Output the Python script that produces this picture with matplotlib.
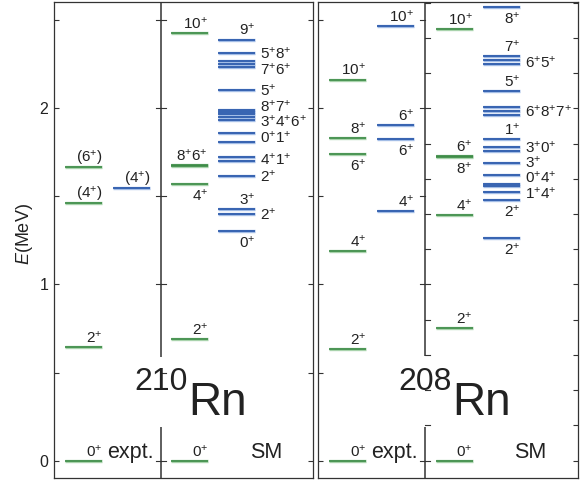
import numpy as np
import matplotlib.pyplot as plt

plt.rcParams['font.family'] = ['Liberation Sans', 'DejaVu Sans']
plt.rcParams['mathtext.fontset'] = 'custom'
plt.rcParams['mathtext.rm'] = 'Liberation Sans'
plt.rcParams['mathtext.it'] = 'Liberation Sans:italic'
plt.rcParams['mathtext.default'] = 'regular'

# level energies (MeV), spins and label placement
# placement: a = above, b = below, r = right; same suffix -> one shared label
rn210_exp_E = [0.0, 0.643, 1.463, 1.664]
rn210_exp_J = ['0', '2', '(4)', '(6)']
rn210_exp_P = ['a', 'a', 'a', 'a']
rn210_expb_E = [1.545]
rn210_expb_J = ['(4)']
rn210_expb_P = ['a']
rn210_smg_E = [0.0, 0.689, 1.568, 1.670, 1.676, 2.426]
rn210_smg_J = ['0', '2', '4', '6', '8', '10']
rn210_smg_P = ['a', 'a', 'b', 'a1', 'a1', 'a']
rn210_smb_E = [1.305, 1.398, 1.426, 1.615, 1.700, 1.722, 1.809, 1.860, 1.932, 1.948,
               1.967, 1.980, 1.993, 2.103, 2.235, 2.250, 2.269, 2.314, 2.390]
rn210_smb_J = ['0', '2', '3', '2', '1', '4', '1', '0', '6', '4',
               '3', '7', '8', '5', '6', '7', '8', '5', '9']
rn210_smb_P = ['b', 'r', 'a', 'r', 'r1', 'r1', 'r2', 'r2', 'r3', 'r3',
               'r3', 'r4', 'r4', 'r', 'r5', 'r5', 'r6', 'r6', 'a']

rn208_exp_E = [0.0, 0.635, 1.189, 1.740, 1.829, 2.163]
rn208_exp_J = ['0', '2', '4', '6', '8', '10']
rn208_exp_P = ['a', 'a', 'a', 'b', 'a', 'a']
rn208_expb_E = [1.416, 1.825, 1.904, 2.466]
rn208_expb_J = ['4', '6', '6', '10']
rn208_expb_P = ['a', 'b', 'a', 'a']
rn208_smg_E = [0.0, 0.753, 1.394, 1.724, 1.730, 2.449]
rn208_smg_J = ['0', '2', '4', '8', '6', '10']
rn208_smg_P = ['a', 'a', 'a', 'b', 'a', 'a']
rn208_smb_E = [1.265, 1.479, 1.526, 1.558, 1.573, 1.621, 1.690, 1.758, 1.781, 1.825,
               1.961, 1.985, 2.005, 2.099, 2.249, 2.273, 2.299, 2.572]
rn208_smb_J = ['2', '2', '4', '1', '4', '0', '3', '0', '3', '1',
               '7', '8', '6', '5', '5', '6', '7', '8']
rn208_smb_P = ['b', 'b', 'r1', 'r1', 'r2', 'r2', 'r', 'r3', 'r3', 'a',
               'r4', 'r4', 'r4', 'a', 'r5', 'r5', 'a', 'b']

GREEN, GREEN_L = '#3b8a45', '#a9d3ac'
BLUE, BLUE_L = '#2454a8', '#a3bde6'
TXT = '#222222'
SPINE = '#333333'
colx = [11, 59, 117, 164]
colw = 37
divx = 106.5
ylim = (-0.098, 2.603)
FS = 11


def spin(j):
    if j.startswith('('):
        return '(' + j[1:-1] + '^{+})'
    return j + '^{+}'


def draw_column(ax, x0, E, J, P, col, light):
    x1 = x0 + colw
    ax.hlines(E, x0, x1, color=light, lw=2.4, zorder=2)
    ax.hlines(E, x0, x1, color=col, lw=1.2, zorder=3)
    groups = {}
    for i, (e, j, p) in enumerate(zip(E, J, P)):
        key = p if len(p) > 1 else (p, i)
        groups.setdefault(key, []).append((e, j))
    right = []
    for key, lv in groups.items():
        kind = key[0]
        lv.sort(reverse=True)
        txt = '$' + ''.join(spin(j) for _, j in lv) + '$'
        if kind == 'a':
            ax.annotate(txt, (x1, lv[0][0]), xytext=(0, 3.2), textcoords='offset points',
                        ha='right', va='baseline', fontsize=FS, color=TXT)
        elif kind == 'b':
            ax.annotate(txt, (x1, lv[-1][0]), xytext=(0, -2.5), textcoords='offset points',
                        ha='right', va='top', fontsize=FS, color=TXT)
        else:
            right.append([np.mean([e for e, _ in lv]), txt])
    right.sort()
    ys = [r[0] for r in right]
    d = 0.087
    for _ in range(60):
        for k in range(len(ys) - 1):
            gap = ys[k + 1] - ys[k]
            if gap < d:
                s = (d - gap) / 2
                ys[k] -= s
                ys[k + 1] += s
    for y, (_, txt) in zip(ys, right):
        ax.annotate(txt, (x1, y), xytext=(3.5, -3.9), textcoords='offset points',
                    ha='left', va='baseline', fontsize=FS, color=TXT)


def divider(ax, gap, lticks, rticks):
    ax.vlines(divx, gap[1], ylim[1], color=SPINE, lw=1.1, zorder=1)
    ax.vlines(divx, ylim[0], gap[0], color=SPINE, lw=1.1, zorder=1)
    for t in lticks:
        if not gap[0] < t < gap[1]:
            ax.plot([divx - 5, divx], [t, t], color=SPINE, lw=0.8)
    for t in rticks:
        ax.plot([divx, divx + 5], [t, t], color=SPINE, lw=0.8)


fig = plt.figure(figsize=(5.83, 4.82), dpi=100)
axL = fig.add_axes([54 / 583, 4 / 482, 259 / 583, 476 / 482])
axR = fig.add_axes([318 / 583, 4 / 482, 260 / 583, 476 / 482])

half = np.arange(0, 2.6, 0.5)
fifth = np.arange(0, 2.61, 0.2)

for ax, w in ((axL, 259), (axR, 260)):
    ax.set_xlim(0, w)
    ax.set_ylim(*ylim)
    ax.set_xticks([])
    for s in ax.spines.values():
        s.set_color(SPINE)
        s.set_linewidth(0.9)
    ax.tick_params(axis='y', direction='in', length=3.6, width=0.8, color=SPINE,
                   labelsize=11.5, labelcolor=TXT, pad=4)
    ax.set_yticks(half)

axL.set_yticklabels(['0', '', '1', '', '2', ''])
axL.tick_params(axis='y', right=True)
axR.tick_params(axis='y', labelleft=False)
axR2 = axR.twinx()
axR2.set_ylim(*ylim)
axR2.set_yticks(fifth)
axR2.tick_params(axis='y', direction='in', length=3.6, width=0.8, color=SPINE, labelright=False)
for s in axR2.spines.values():
    s.set_visible(False)

axL.set_ylabel(r'$\mathit{E}$(MeV)', fontsize=13, color=TXT)
axL.yaxis.set_label_coords(-0.075, 0.512)

draw_column(axL, colx[0], rn210_exp_E, rn210_exp_J, rn210_exp_P, GREEN, GREEN_L)
draw_column(axL, colx[1], rn210_expb_E, rn210_expb_J, rn210_expb_P, BLUE, BLUE_L)
draw_column(axL, colx[2], rn210_smg_E, rn210_smg_J, rn210_smg_P, GREEN, GREEN_L)
draw_column(axL, colx[3], rn210_smb_E, rn210_smb_J, rn210_smb_P, BLUE, BLUE_L)
draw_column(axR, colx[0], rn208_exp_E, rn208_exp_J, rn208_exp_P, GREEN, GREEN_L)
draw_column(axR, colx[1], rn208_expb_E, rn208_expb_J, rn208_expb_P, BLUE, BLUE_L)
draw_column(axR, colx[2] + 0.5, rn208_smg_E, rn208_smg_J, rn208_smg_P, GREEN, GREEN_L)
draw_column(axR, colx[3] + 1, rn208_smb_E, rn208_smb_J, rn208_smb_P, BLUE, BLUE_L)

divider(axL, (0.19, 0.59), half, half)
divider(axR, (0.19, 0.594), half, fifth)

for ax, a in ((axL, '210'), (axR, '208')):
    ax.text(53, 0.015, 'expt.', fontsize=15.5, color=TXT, ha='left', va='baseline')
    ax.text(196, 0.015, 'SM', fontsize=15.5, color=TXT, ha='left', va='baseline')
    ax.text(133.5, 0.401, a, fontsize=23, color=TXT, ha='right', va='baseline')
    ax.text(134.5, 0.259, 'Rn', fontsize=33, color=TXT, ha='left', va='baseline')

fig.savefig('out.png', dpi=100)
